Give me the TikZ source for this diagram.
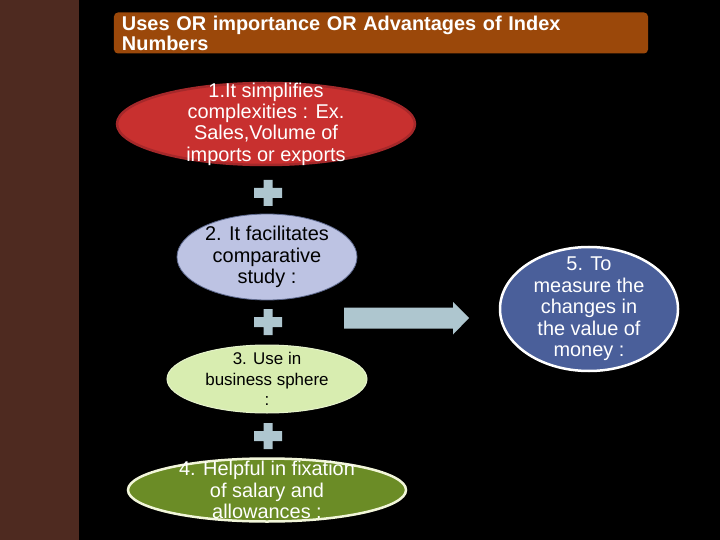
\documentclass[tikz,border=0pt]{standalone}
\usepackage{fontspec}
\setmainfont{Liberation Sans}
\usetikzlibrary{shapes.geometric}
\definecolor{stripbrown}{HTML}{4E2A20}
\definecolor{titlebrown}{HTML}{9B480A}
\definecolor{redfill}{HTML}{C8302F}
\definecolor{redline}{HTML}{A5282A}
\definecolor{lavfill}{HTML}{BDC3E3}
\definecolor{lavline}{HTML}{5F6A8E}
\definecolor{limefill}{HTML}{D8EDB0}
\definecolor{limeline}{HTML}{E6F3CC}
\definecolor{olivefill}{HTML}{6B8C26}
\definecolor{oliveline}{HTML}{F2F6DA}
\definecolor{navyfill}{HTML}{4A5F9A}
\definecolor{plusgray}{HTML}{AEC6CF}
\tikzset{
  oval/.style={ellipse,inner sep=0pt},
  ovaltext/.style={align=center,inner sep=0pt,font=\fontsize{20}{21.5}\selectfont},
}
\begin{document}
\begin{tikzpicture}[x=1bp,y=-1bp]
\useasboundingbox (0,0) rectangle (720,540);
\fill[black] (0,0) rectangle (720,540);
\fill[stripbrown] (0,0) rectangle (79,540);
% heading
\node[fill=titlebrown,rounded corners=4bp,minimum width=534bp,minimum height=41bp,
      text width=518bp,inner xsep=8bp,inner ysep=0pt,align=left,text=white,
      font=\bfseries\fontsize{20}{20}\selectfont] (title) at (381,33)
  {Uses OR importance OR Advantages of Index\\Numbers};
% the four uses down the left
\node[oval,fill=redfill,draw=redline,line width=2.5bp,minimum width=298bp,minimum height=82bp] (simp) at (266,124) {};
\node[ovaltext,text=white] (simptext) at (simp.center)
  {1.It simplifies\\complexities : Ex.\\Sales,Volume of\\imports or exports};
\node[oval,fill=lavfill,draw=lavline,line width=0.8bp,minimum width=180bp,minimum height=86bp] (comp) at (267,257) {};
\node[ovaltext,text=black] (comptext) at (comp.center)
  {2. It facilitates\\comparative\\study :};
\node[oval,fill=limefill,draw=limeline,line width=1bp,minimum width=200bp,minimum height=68bp] (bus) at (267,379) {};
\node[ovaltext,text=black,font=\fontsize{17}{20.5}\selectfont] (bustext) at (bus.center)
  {3. Use in\\business sphere\\:};
\node[oval,fill=olivefill,draw=oliveline,line width=2.5bp,minimum width=278bp,minimum height=63bp] (sal) at (267,490) {};
\node[ovaltext,text=white] (saltext) at (sal.center)
  {4. Helpful in fixation\\of salary and\\allowances :};
% plus signs between them
\foreach \y in {193,322,436} {
  \fill[plusgray] (268,\y) +(-4.5,-13) rectangle +(4.5,13)
                  (268,\y) +(-14,-5) rectangle +(14,5);
}
% block arrow and the fifth use
\coordinate (arr) at (344,318);
\fill[plusgray] (arr) ++(0,-10.5) -- ++(109,0) -- ++(0,-5.5) -- ++(16,16)
  -- ++(-16,16.5) -- ++(0,-6) -- ++(-109,0) -- cycle;
\node[oval,fill=navyfill,draw=white,line width=2.5bp,minimum width=178bp,minimum height=124bp] (money) at (589,309) {};
\node[ovaltext,text=white] (moneytext) at (money.center)
  {5. To\\measure the\\changes in\\the value of\\money :};
\end{tikzpicture}
\end{document}
